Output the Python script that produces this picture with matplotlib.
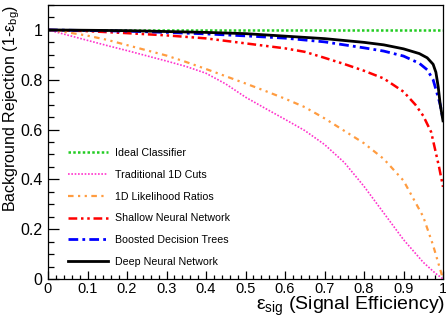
import matplotlib
matplotlib.use("Agg")
import matplotlib.pyplot as plt
from matplotlib.ticker import MultipleLocator, FixedLocator

plt.rcParams['font.family'] = ['Liberation Sans', 'DejaVu Sans']
plt.rcParams['mathtext.fontset'] = 'custom'
plt.rcParams['mathtext.rm'] = 'Liberation Sans'
plt.rcParams['mathtext.it'] = 'Liberation Sans:italic'

# ---- data ----
ideal_x = [0.0, 1.0]
ideal_y = [1.0, 1.0]

cuts_x = [0, 0.05, 0.1, 0.15, 0.2, 0.25, 0.3, 0.35, 0.4, 0.45, 0.5, 0.55, 0.6, 0.65, 0.7, 0.75, 0.8, 0.85, 0.9, 0.95, 0.98, 1.0]
cuts_y = [1.0, 0.979, 0.958, 0.937, 0.917, 0.896, 0.875, 0.853, 0.826, 0.783, 0.73, 0.685, 0.641, 0.596, 0.54, 0.468, 0.372, 0.265, 0.158, 0.067, 0.024, 0.0]

lh_x = [0, 0.05, 0.1, 0.15, 0.2, 0.25, 0.3, 0.35, 0.4, 0.45, 0.5, 0.55, 0.6, 0.65, 0.7, 0.75, 0.8, 0.85, 0.9, 0.95, 0.975, 1.0]
lh_y = [1.0, 0.99, 0.977, 0.96, 0.939, 0.918, 0.897, 0.871, 0.843, 0.814, 0.785, 0.755, 0.724, 0.69, 0.645, 0.595, 0.545, 0.482, 0.395, 0.25, 0.135, 0.0]

snn_x = [0, 0.1, 0.2, 0.3, 0.4, 0.5, 0.6, 0.65, 0.7, 0.75, 0.8, 0.85, 0.9, 0.93, 0.95, 0.97, 0.98, 0.99, 1.0]
snn_y = [1.0, 0.995, 0.987, 0.978, 0.966, 0.946, 0.926, 0.912, 0.888, 0.863, 0.836, 0.805, 0.752, 0.70, 0.655, 0.59, 0.52, 0.45, 0.37]

bdt_x = [0, 0.2, 0.3, 0.4, 0.5, 0.6, 0.7, 0.8, 0.85, 0.9, 0.94, 0.96, 0.975, 0.985, 0.993, 1.0]
bdt_y = [1.0, 0.995, 0.99, 0.984, 0.976, 0.967, 0.952, 0.928, 0.915, 0.895, 0.866, 0.84, 0.80, 0.745, 0.70, 0.64]

dnn_x = [0, 0.2, 0.4, 0.5, 0.6, 0.7, 0.8, 0.85, 0.9, 0.94, 0.96, 0.975, 0.982, 0.988, 0.993, 1.0]
dnn_y = [1.0, 0.997, 0.99, 0.985, 0.975, 0.965, 0.95, 0.94, 0.924, 0.905, 0.888, 0.862, 0.83, 0.77, 0.70, 0.635]

labels = ["Ideal Classifier", "Traditional 1D Cuts", "1D Likelihood Ratios",
          "Shallow Neural Network", "Boosted Decision Trees", "Deep Neural Network"]

xtick_vals = [0, 0.1, 0.2, 0.3, 0.4, 0.5, 0.6, 0.7, 0.8, 0.9, 1.0]
xtick_labels = ["0", "0.1", "0.2", "0.3", "0.4", "0.5", "0.6", "0.7", "0.8", "0.9", "1"]
ytick_vals = [0, 0.2, 0.4, 0.6, 0.8, 1.0]
ytick_labels = ["0", "0.2", "0.4", "0.6", "0.8", "1"]

# ---- figure ----
fig = plt.figure(figsize=(4.46, 3.24), dpi=100)
ax = fig.add_axes([48/446, 1-279/324, 395/446, 274/324])

ax.plot(ideal_x, ideal_y, color='#22cc22', lw=1.8, ls=(0, (1.0, 0.9)), label=labels[0])
ax.plot(cuts_x, cuts_y, color='#ff33cc', lw=1.2, ls=(0, (1, 1)), label=labels[1])
ax.plot(lh_x, lh_y, color='#ff9c40', lw=1.6, ls=(0, (2.5, 2, 1, 2, 1, 2)), label=labels[2])
ax.plot(snn_x, snn_y, color='#ff0000', lw=1.8, ls=(0, (3.5, 1.5, 1, 1.5, 1, 1.5)), label=labels[3])
ax.plot(bdt_x, bdt_y, color='#0000ff', lw=2.0, ls=(0, (3.5, 1.5, 1, 1.5)), label=labels[4])
ax.plot(dnn_x, dnn_y, color='#000000', lw=2.0, ls='-', label=labels[5])

ax.set_xlim(0, 1.0)
ax.set_ylim(0, 1.1)

ax.xaxis.set_major_locator(FixedLocator(xtick_vals))
ax.set_xticklabels(xtick_labels)
ax.xaxis.set_minor_locator(MultipleLocator(0.02))
ax.yaxis.set_major_locator(FixedLocator(ytick_vals))
ax.set_yticklabels(ytick_labels)
ax.yaxis.set_minor_locator(MultipleLocator(0.05))

ax.tick_params(axis='both', which='both', direction='in', top=False, right=False)
ax.tick_params(axis='y', which='major', length=8, width=0.9, pad=4, labelsize=11.5)
ax.tick_params(axis='y', which='minor', length=4, width=0.9)
ax.tick_params(axis='x', which='major', length=5.5, width=0.9, pad=2, labelsize=10.5)
ax.tick_params(axis='x', which='minor', length=3, width=0.9)
for s in ax.spines.values():
    s.set_linewidth(0.9)

ax.set_xlabel(r"$\mathrm{\epsilon_{sig}}$ (Signal Efficiency)", fontsize=14, loc='right')
ax.xaxis.set_label_coords(1.005, -0.058)
ax.set_ylabel(r"Background Rejection (1-$\mathrm{\epsilon_{bg}}$)", fontsize=11.5, loc='top')
ax.yaxis.set_label_coords(-0.066, 1.0)

leg = ax.legend(loc='upper left', bbox_to_anchor=(20/395, (279-148)/274), frameon=False,
                fontsize=7.7, handlelength=3.75, handletextpad=0.65, labelspacing=1.1,
                borderpad=0, borderaxespad=0)

fig.savefig("out.png", dpi=100)
